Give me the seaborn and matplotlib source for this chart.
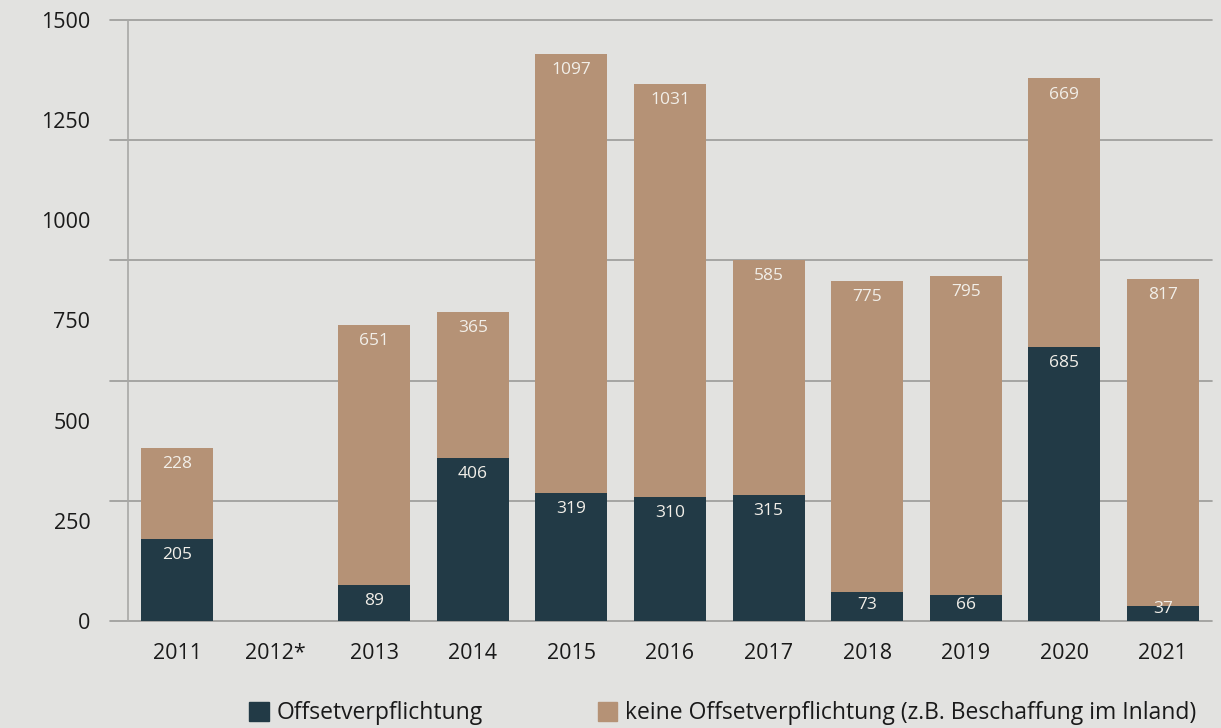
import matplotlib
matplotlib.use("Agg")
import matplotlib.pyplot as plt
import matplotlib.patches as mpatches
import seaborn as sns
import numpy as np
import pandas as pd

years = ["2011", "2012*", "2013", "2014", "2015", "2016", "2017", "2018", "2019", "2020", "2021"]
offset = [205, np.nan, 89, 406, 319, 310, 315, 73, 66, 685, 37]
no_offset = [228, np.nan, 651, 365, 1097, 1031, 585, 775, 795, 669, 817]
y_ticks = [0, 250, 500, 750, 1000, 1250, 1500]
grid_levels = [0, 300, 600, 900, 1200, 1500]
series_names = ["Offsetverpflichtung", "keine Offsetverpflichtung (z.B. Beschaffung im Inland)"]

DARK = "#223a46"
TAN = "#b59276"
BG = "#e2e2e0"
GRID = "#9a9a98"
TXT = "#1a1a1a"

sns.set_theme(style="white")
plt.rcParams["font.family"] = ["Open Sans", "DejaVu Sans"]

df = pd.DataFrame({"year": years, "offset": offset, "no_offset": no_offset})
df["total"] = df["offset"] + df["no_offset"]

fig = plt.figure(figsize=(12.21, 7.28), dpi=100, facecolor=BG)
ax = fig.add_axes([128/1221, 107/728, 1084/1221, 601/728])
ax.set_facecolor(BG)

for lv in grid_levels:
    ax.axhline(lv, xmin=-0.017, xmax=1.0, color=GRID, lw=1.2, clip_on=False, zorder=0.5)

sns.barplot(data=df, x="year", y="total", order=years, color=TAN, width=0.73,
            saturation=1, ax=ax, zorder=2, linewidth=0)
sns.barplot(data=df, x="year", y="offset", order=years, color=DARK, width=0.73,
            saturation=1, ax=ax, zorder=3, linewidth=0)

for i, row in df.iterrows():
    if np.isnan(row["offset"]):
        continue
    o = row["offset"]
    t = row["total"]
    yo = max(o - 40, min(40, o * 0.8))
    ax.text(i, yo, f"{int(o)}", ha="center", va="center", color="#f2efe9", fontsize=12.5, zorder=4)
    ax.text(i, t - 40, f"{int(row['no_offset'])}", ha="center", va="center", color="#f2efe9",
            fontsize=12.5, zorder=4)

ax.set_xlim(-0.5, len(years) - 0.5)
ax.set_ylim(0, 1500)
ax.set_yticks(y_ticks)
ax.set_yticklabels([str(v) for v in y_ticks], fontsize=15.5, color=TXT)
ax.tick_params(axis="y", length=0, pad=27)

ax.set_xticks(range(len(years)))
ax.set_xticklabels(years, fontsize=15.5, color=TXT)
ax.tick_params(axis="x", length=0, pad=16)
ax.set_xticks(np.arange(-0.5, len(years), 1.0), minor=True)
ax.tick_params(axis="x", which="minor", length=7, width=1.2, color=GRID, direction="out")
ax.set_xlabel("")
ax.set_ylabel("")

for s in ["top", "right", "bottom"]:
    ax.spines[s].set_visible(False)
ax.spines["left"].set_color("#a8a8a6")
ax.spines["left"].set_linewidth(1.2)
ax.grid(False)

handles = [mpatches.Patch(color=DARK, label=series_names[0]),
           mpatches.Patch(color=TAN, label=series_names[1])]
fig.legend(handles=handles, loc="center", bbox_to_anchor=(0.592, 0.02), ncol=2, frameon=False,
           fontsize=16.5, handlelength=0.85, handleheight=0.85, handletextpad=0.35, columnspacing=5.0,
           labelcolor=TXT)

fig.savefig("out.png", dpi=100, facecolor=BG)
